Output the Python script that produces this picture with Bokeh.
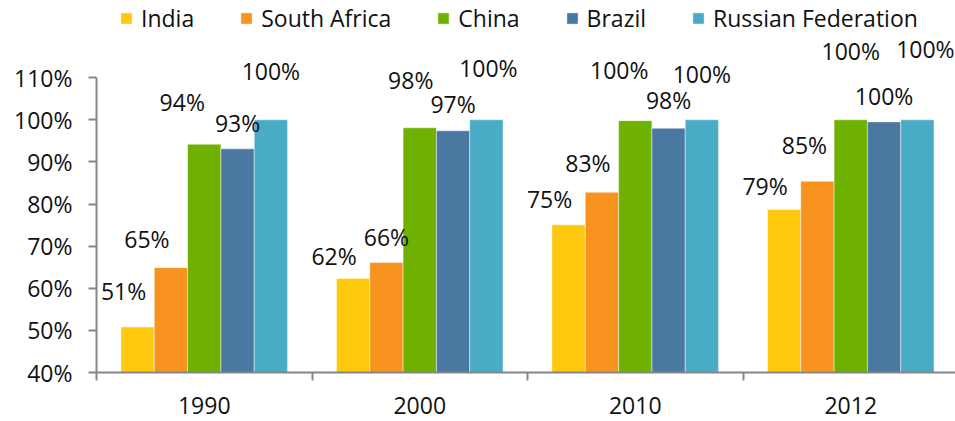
from bokeh.plotting import figure
from bokeh.models import (ColumnDataSource, Range1d, FixedTicker, LabelSet, Legend, LegendItem)
from bokeh.core.properties import value
from bokeh.embed import file_html
from bokeh.resources import INLINE

# ---- data ----
years = ["1990", "2000", "2010", "2012"]
series_names = ["India", "South Africa", "China", "Brazil", "Russian Federation"]
india = [50.8, 62.3, 75.1, 78.7]
south_africa = [64.9, 66.1, 82.8, 85.4]
china = [94.2, 98.1, 99.8, 100.0]
brazil = [93.1, 97.4, 98.0, 99.5]
russia = [100.0, 100.0, 100.0, 100.0]
y_ticks = [40, 50, 60, 70, 80, 90, 100, 110]

# ---- style ----
colors = ["#FFC80C", "#F7931E", "#6EB100", "#4A78A0", "#4AABC6"]
FONT = "Open Sans"
FS = "23px"
# label offsets (px) relative to bar top center, per series per year
label_dx = [[-14, -19, -19, -19],
            [-24, 0, -14, -13],
            [-22, -9, -16, 0],
            [0, 0, 0, 0],
            [0, 2, 0, 8]]
label_dy = [[36, 23, 26, 24],
            [29, 26, 29, 36],
            [42, 48, 51, 69],
            [26, 27, 28, 26],
            [49, 52, 46, 71]]

all_series = [india, south_africa, china, brazil, russia]

px_per_unit = (372 - 119.3) / 60.0
y_end = 40 + 372 / px_per_unit
x_end = (955 - 96) / 215.5

p = figure(width=955, height=421, output_backend="svg", toolbar_location=None,
           x_range=Range1d(0, x_end), y_range=Range1d(40, y_end),
           min_border_left=96, min_border_right=0, min_border_top=0, min_border_bottom=49)
p.outline_line_color = None
p.grid.grid_line_color = None
p.background_fill_color = "white"
p.border_fill_color = "white"

bar_w = 0.1546
items = []
for j, (name, vals) in enumerate(zip(series_names, all_series)):
    xs = [i + 0.5 + (j - 2) * bar_w for i in range(len(years))]
    src = ColumnDataSource(dict(
        x=xs, top=vals,
        lab=[f"{int(v + 0.5)}%" for v in vals],
        dx=label_dx[j], dy=label_dy[j]))
    r = p.vbar(x="x", top="top", bottom=40, width=bar_w, source=src,
               fill_color=colors[j], line_color="white", line_alpha=0.45, line_width=1)
    items.append(LegendItem(label=name, renderers=[r]))
    p.add_layout(LabelSet(x="x", y="top", text="lab", x_offset="dx", y_offset="dy", source=src,
                          text_align="center", text_baseline="middle",
                          text_font=value(FONT), text_font_size=value(FS), text_color="#111111"))

# axes
xa = p.xaxis[0]
xa.ticker = FixedTicker(ticks=[i + 0.5 for i in range(len(years))],
                        minor_ticks=list(range(len(years))))
xa.major_label_overrides = {i + 0.5: y for i, y in enumerate(years)}
xa.major_tick_out = 0
xa.major_tick_in = 0
xa.minor_tick_out = 8
xa.minor_tick_in = 0
xa.minor_tick_line_color = "#868686"
xa.minor_tick_line_width = 2
xa.axis_line_color = "#868686"
xa.axis_line_width = 2
xa.major_label_standoff = 16
xa.major_label_text_font = FONT
xa.major_label_text_font_size = FS
xa.major_label_text_color = "#111111"

ya = p.yaxis[0]
ya.ticker = FixedTicker(ticks=y_ticks, minor_ticks=[])
ya.bounds = (40, 110)
ya.major_label_overrides = {t: f"{t}%" for t in y_ticks}
ya.major_tick_out = 8
ya.major_tick_in = 0
ya.major_tick_line_color = "#868686"
ya.major_tick_line_width = 2
ya.axis_line_color = "#868686"
ya.axis_line_width = 2
ya.major_label_standoff = 16
ya.major_label_text_font = FONT
ya.major_label_text_font_size = FS
ya.major_label_text_color = "#111111"

legend = Legend(items=items, orientation="horizontal", location=(23, 372 - 34),
                glyph_width=14, glyph_height=14, label_standoff=8, spacing=45,
                padding=0, margin=0, border_line_color=None, background_fill_alpha=0,
                label_text_font=FONT, label_text_font_size=FS, label_text_color="#111111")
p.add_layout(legend)

open("out.html", "w").write(file_html(p, INLINE))
